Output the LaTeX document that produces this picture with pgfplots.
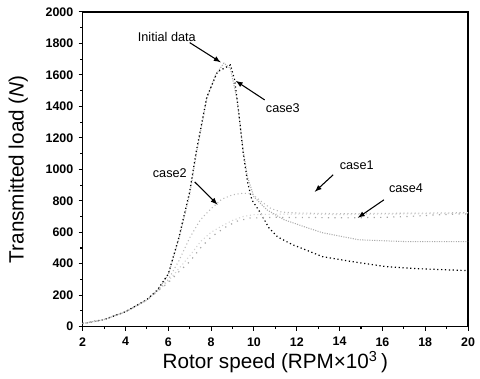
\documentclass[border=0pt]{standalone}
\usepackage{pgfplots}
\pgfplotsset{compat=1.18}
\usepackage{fontspec}
\setmainfont{Liberation Sans}
\setsansfont{Liberation Sans}
\begin{document}
\begin{tikzpicture}
\begin{axis}[
  scale only axis,
  width=289pt, height=236pt,
  xmin=2, xmax=20, ymin=0, ymax=2000,
  xtick={2,4,...,20}, ytick={0,200,...,2000},
  minor x tick num=1, minor y tick num=1,
  xtick pos=left, ytick pos=left,
  tick align=outside,
  major tick length=3pt, minor tick length=1.8pt,
  axis line style={line width=1pt},
  every tick/.style={line width=0.8pt, black},
  /pgf/number format/assume math mode=true,
  /pgf/number format/1000 sep={},
  ticklabel style={font=\fontsize{9.3}{10}\selectfont\bfseries},
  xticklabel style={yshift=-1.5pt},
  yticklabel style={xshift=-0.5pt},
  xlabel={Rotor speed (RPM×10\textsuperscript{3}\,)},
  ylabel={Transmitted load (\textit{N})},
  every axis x label/.style={at={(axis description cs:0.5,-0.112)}, anchor=center, font=\fontsize{15.5}{17}\selectfont},
  every axis y label/.style={at={(axis description cs:-0.167,0.5)}, anchor=center, rotate=90, font=\fontsize{15.5}{17}\selectfont},
  clip=false,
]
% Initial data
\addplot[gray!65, densely dotted, line width=0.8pt] coordinates {
(2,20)(3,45)(4,95)(5,170)(5.5,230)(6,330)(6.5,560)(7,840)(7.3,1090)(7.8,1450)(8.2,1600)(8.6,1675)(8.9,1640)(9.2,1450)(9.5,1120)(9.7,950)(10,825)(10.6,743)(11.4,680)(12.5,628)(13.2,597)(14.9,552)(17,541)(20,540)};
% case3
\addplot[black, dotted, line width=0.9pt] coordinates {
(2,20)(3,45)(4,95)(5,172)(5.5,235)(6,335)(6.5,570)(7,860)(7.3,1110)(7.8,1460)(8.3,1620)(8.9,1663)(9.1,1568)(9.3,1350)(9.5,1100)(9.7,920)(9.9,806)(10.3,724)(10.7,628)(11.1,571)(11.8,521)(12.2,500)(13.2,445)(14.6,413)(16.2,381)(17.75,368)(20,356)};
% case2
\addplot[gray!55, dotted, line width=0.8pt] coordinates {
(2,20)(3,45)(4,95)(5,170)(5.5,230)(6,300)(6.5,420)(7,565)(7.5,680)(8,750)(8.5,810)(9,838)(9.5,848)(9.9,845)(10.3,800)(10.8,750)(11.3,728)(12,722)(14,718)(16,720)(18,722)(20,725)};
% case1
\addplot[gray!35, dotted, line width=0.8pt] coordinates {
(2,20)(3,45)(4,95)(5,168)(5.5,225)(6,290)(6.5,370)(7,450)(7.5,540)(8,600)(8.5,640)(9,675)(9.5,700)(10,712)(11,715)(12.8,715)(14,712)(16,715)(18,718)(20,720)};
% case4
\addplot[gray!70, loosely dotted, line width=0.9pt] coordinates {
(2,20)(3,45)(4,95)(5,168)(5.5,225)(6,280)(6.5,350)(7,413)(7.5,500)(8,570)(8.7,635)(9.2,670)(9.8,690)(11,695)(13,693)(14.7,692)(16.2,695)(17.9,705)(18.5,711)(19.4,715)(20,717)};
% annotations
\node[font=\fontsize{9.5}{11}\selectfont] at (axis cs:5.93,1841) {Initial data};
\draw[-latex, line width=0.8pt] (axis cs:7.0,1805) -- (axis cs:8.45,1680);
\node[font=\fontsize{9.5}{11}\selectfont] at (axis cs:11.35,1390) {case3};
\draw[-latex, line width=0.8pt] (axis cs:10.5,1441) -- (axis cs:9.15,1562);
\node[font=\fontsize{9.5}{11}\selectfont] at (axis cs:6.07,978) {case2};
\draw[-latex, line width=0.8pt] (axis cs:7.23,920) -- (axis cs:8.3,775);
\node[font=\fontsize{9.5}{11}\selectfont] at (axis cs:14.8,1029) {case1};
\draw[-latex, line width=0.8pt] (axis cs:13.7,965) -- (axis cs:12.84,857);
\node[font=\fontsize{9.5}{11}\selectfont] at (axis cs:17.1,880) {case4};
\draw[-latex, line width=0.8pt] (axis cs:16.07,806) -- (axis cs:14.85,692);
\path (rel axis cs:-0.2145,-0.165) rectangle (rel axis cs:1.031,1.038);
\end{axis}
\end{tikzpicture}
\end{document}
